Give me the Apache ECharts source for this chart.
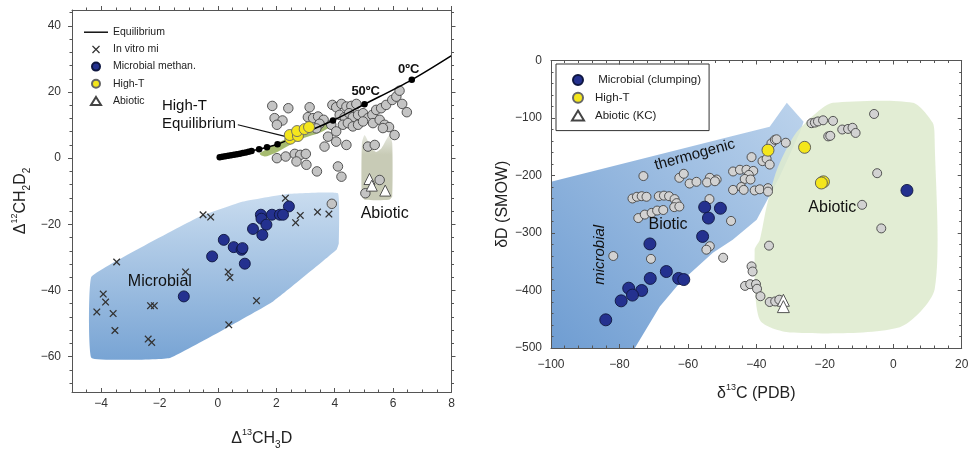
<!DOCTYPE html>
<html><head><meta charset="utf-8">
<script src="https://cdn.jsdelivr.net/npm/echarts@6/dist/echarts.min.js"></script>
<style>html,body{margin:0;padding:0;background:#fff}#c{width:973px;height:451px}</style>
</head><body><div id="c"></div>
<script>
// ---------------- LEFT PANEL DATA (Δ13CH3D vs Δ12CH2D2) ----------------
const leftXMajor = [-4, -2, 0, 2, 4, 6, 8];
const leftXMinor = [-4.5, -3.5, -3, -2.5, -1.5, -1, -0.5, 0.5, 1, 1.5, 2.5, 3, 3.5, 4.5, 5, 5.5, 6.5, 7, 7.5];
const leftYMajor = [-60, -40, -20, 0, 20, 40];
const leftYMinor = [-68, -64, -56, -52, -48, -44, -36, -32, -28, -24, -16, -12, -8, -4, 4, 8, 12, 16, 24, 28, 32, 36, 44];

const equilibriumLine = [[0.06,0.3],[0.6,1.1],[1.2,2.3],[1.41,2.7],[1.68,3.3],[2.04,4.2],[3.0,7.8],[3.94,11.4],[5.02,16.3],[6.64,23.7],[8.0,31.0]];
const equilibriumDots = [[0.06,0.3],[0.15,0.42],[0.25,0.55],[0.35,0.7],[0.45,0.85],[0.55,1.0],[0.65,1.2],[0.75,1.35],[0.85,1.55],[0.95,1.75],[1.05,1.95],[1.15,2.15],[1.41,2.7],[1.68,3.3],[2.04,4.2],[3.94,11.4],[5.02,16.3],[6.64,23.7]];
const leaderLine = [[0.68,10.1],[2.3,6.6]];

const leftGray = [
 [1.86,15.8],[2.41,15.1],[3.14,15.4],[1.94,12.1],[2.21,11.4],[2.02,10.1],[3.08,12.4],[3.26,12.1],[3.43,12.6],[3.62,11.6],
 [3.48,10.4],[3.37,9.0],[3.92,16.1],[4.05,15.4],[4.23,16.4],[4.40,15.6],[4.57,15.8],[4.74,16.4],[4.17,13.1],[4.34,12.4],
 [4.49,13.6],[4.62,12.4],[4.80,13.1],[4.97,13.6],[5.14,12.1],[5.29,13.1],[5.42,14.6],[5.59,15.1],[5.76,16.1],[5.97,17.6],
 [6.11,18.6],[6.22,20.4],[6.31,16.4],[6.47,13.9],[4.28,10.1],[4.45,10.6],[4.62,9.6],[4.80,10.1],[4.97,11.1],[5.31,10.6],
 [5.54,11.6],[5.71,10.1],[5.86,9.4],[6.05,7.0],[5.65,9.1],[3.65,3.5],[4.05,5.0],[4.40,4.0],[5.14,3.5],[5.37,4.0],
 [2.02,0.0],[2.32,0.5],[2.63,1.3],[2.82,1.0],[3.01,1.3],[2.69,-1.0],[3.03,-2.0],[3.39,-4.0],[4.11,-2.5],[4.23,-5.6],
 [3.88,10.1],[4.05,8.1],[3.77,6.5],[5.05,-10.6],[5.54,-6.6],[3.90,-13.8]
];
const leftInVitro = [
 [-3.47,-31.4],[-0.51,-17.1],[-0.25,-17.8],[-1.11,-34.4],[0.35,-34.4],[0.41,-36.1],[-3.93,-41.1],[-3.85,-43.5],[-4.15,-46.5],[-3.59,-47.0],
 [-2.31,-44.6],[-2.18,-44.6],[-3.53,-52.1],[-2.39,-54.7],[-2.27,-55.7],[0.37,-50.4],[1.32,-43.1],[2.31,-12.1],[2.82,-17.3],[2.66,-19.5],
 [3.41,-16.3],[3.80,-16.9]
];
const leftMicrobial = [
 [2.43,-14.6],[1.47,-17.1],[1.49,-18.3],[1.85,-17.1],[2.12,-17.1],[2.23,-17.1],[1.66,-20.1],[1.20,-21.4],[1.52,-23.2],[0.20,-24.7],
 [0.54,-26.9],[0.81,-27.7],[0.84,-27.2],[-0.20,-29.7],[0.92,-31.9],[-1.17,-41.8]
];
const leftHighT = [[2.48,5.9],[2.46,7.0],[2.74,6.7],[2.71,8.2],[2.97,8.8],[3.12,9.4]];
const leftAbiotic = [[5.19,-6.3],[5.27,-8.3],[5.73,-9.8]];

const leftMicrobialZone = [[-4.33,-35.8],[-0.62,-17.6],[0.86,-13.1],[2.35,-10.8],[4.11,-10.6],[4.14,-25.7],[4.06,-27.7],[1.89,-43.3],[-1.65,-60.4],[-4.33,-60.4]];
const leftHighTZone = [[1.43,1.3],[1.66,2.7],[2.12,5.0],[2.69,7.0],[3.26,9.0],[3.77,10.4],[3.85,9.6],[3.48,7.7],[2.91,6.0],[2.40,3.7],[1.94,1.5],[1.60,0.5]];
const leftAbioticZone = [[4.93,-11.5],[4.93,4.5],[5.02,7.0],[5.12,5.5],[5.25,3.0],[5.42,1.9],[5.6,3.0],[5.76,5.5],[5.88,7.0],[5.97,4.5],[5.97,-11.5],[5.85,-12.6],[5.05,-12.6]];

// ---------------- RIGHT PANEL DATA (δ13C vs δD) ----------------
const rightXMajor = [-100, -80, -60, -40, -20, 0, 20];
const rightXMinor = [-96,-92,-88,-84,-76,-72,-68,-64,-56,-52,-48,-44,-36,-32,-28,-24,-16,-12,-8,-4,4,8,12,16];
const rightYMajor = [-500, -400, -300, -200, -100, 0];
const rightYMinor = [-480,-460,-440,-420,-380,-360,-340,-320,-280,-260,-240,-220,-180,-160,-140,-120,-80,-60,-40,-20];

const rightGray = [
 [-5.6,-93],[-23.9,-109],[-22.9,-108],[-22.0,-106],[-20.5,-104],[-17.6,-105],[-14.9,-120],[-13.2,-119],[-11.9,-117],[-11.0,-126],
 [-19.0,-132],[-18.4,-131],[-35.6,-144],[-34.6,-138],[-34.1,-137],[-31.4,-143],[-38.2,-175],[-37.0,-171],[-36.1,-181],[-41.4,-168],
 [-46.8,-193],[-44.8,-190],[-42.9,-190],[-40.9,-192],[-42.2,-199],[-43.4,-206],[-41.7,-207],[-46.8,-225],[-44.4,-220],[-43.7,-225],
 [-40.5,-226],[-39.0,-224],[-36.6,-222],[-36.6,-228],[-51.6,-207],[-53.6,-204],[-54.4,-212],[-52.1,-210],[-59.5,-214],[-57.5,-211],
 [-62.5,-204],[-61.2,-197],[-73.0,-201],[-76.2,-240],[-74.9,-237],[-73.5,-236],[-72.1,-237],[-68.5,-236],[-67.0,-235],[-65.5,-236],
 [-63.9,-241],[-63.3,-248],[-64.0,-255],[-62.5,-254],[-74.5,-274],[-72.6,-268],[-70.6,-265],[-69.0,-261],[-67.2,-260],[-53.7,-241],
 [-47.4,-279],[-53.6,-323],[-54.6,-329],[-36.3,-322],[-49.7,-343],[-81.8,-340],[-70.8,-345],[-41.4,-358],[-41.1,-367],[-43.3,-392],
 [-41.8,-389],[-40.1,-389],[-39.8,-397],[-38.8,-410],[-36.1,-420],[-34.5,-419],[-33.3,-416],[-4.7,-196],[-9.1,-251],[-3.5,-292]
];
const rightMicrobial = [
 [-55.1,-255],[-50.5,-257],[-54.0,-274],[-55.7,-306],[-71.1,-319],[-66.3,-367],[-71.0,-379],[-62.7,-379],[-61.2,-381],[-77.3,-396],
 [-73.5,-400],[-76.2,-408],[-79.5,-418],[-84.0,-451],[4.0,-226]
];
const rightHighT = [[-36.6,-156],[-25.9,-151],[-20.4,-211],[-21.0,-213]];
const rightAbiotic = [[-32.1,-417],[-32.1,-428]];

const rightBioticZone = [[-100,-211],[-47.8,-132.6],[-36.1,-115.2],[-31.1,-73.5],[-26.2,-106.5],[-27.3,-125.6],[-33.2,-202],[-39.9,-276.8],[-46.9,-311.6],[-52.7,-334.2],[-62.3,-386.3],[-68.2,-428],[-75.5,-500],[-100,-500]];
const rightAbioticZone = [[-22.1,-89],[-17.7,-73.5],[5.7,-73.5],[11.5,-108],[12.1,-138],[12.1,-398],[1.9,-464],[-30.2,-473],[-39,-451],[-40.5,-329],[-39,-312],[-37,-254],[-34,-190],[-28.8,-129]];

// ---------------- TEXT ----------------
const leftNotes = [
 {t:'High-T', x:-1.92, y:15.8, align:'left', size:15},
 {t:'Equilibrium', x:-1.92, y:10.3, align:'left', size:15},
 {t:'50ºC', x:5.06, y:20.2, size:13, bold:true},
 {t:'0ºC', x:6.53, y:26.7, size:13, bold:true},
 {t:'Microbial', x:-1.99, y:-37.2, size:16},
 {t:'Abiotic', x:5.71, y:-16.7, size:16}
];
const rightNotes = [
 {t:'thermogenic', x:-58, y:-164, size:15, rot:0.27},
 {t:'microbial', x:-85.6, y:-338, size:15, rot:Math.PI/2, italic:true},
 {t:'Biotic', x:-65.8, y:-285, size:16},
 {t:'Abiotic', x:-17.8, y:-255, size:16}
];

const FONT = 'Liberation Sans, Arial, Helvetica, sans-serif';
const AX = '#555';
const minusFmt = v => String(v).replace('-', '\u2212');

function axesFor(g, xr, yr, xMaj, xMin, yMaj, yMin, o) {
  const base = (extra) => Object.assign({type:'value', gridIndex:g, splitLine:{show:false}, z:10, silent:true}, extra);
  const line = (show) => ({show, onZero:false, lineStyle:{color:AX, width:1}});
  const xs = [
    base({min:xr[0], max:xr[1], position:'bottom', name:o.xName, nameLocation:'middle', nameGap:o.xNameGap,
      nameTextStyle:o.nameStyle,
      axisLine:line(true), axisTick:{show:true, inside:o.bIn, length:o.maj, customValues:xMaj, lineStyle:{color:AX}},
      axisLabel:{customValues:xMaj, formatter:minusFmt, color:'#333', fontSize:12, fontFamily:FONT, margin:o.xMargin}}),
    base({min:xr[0], max:xr[1], position:'bottom', axisLine:line(false), axisTick:{show:true, inside:o.bIn, length:o.min, customValues:xMin, lineStyle:{color:AX}}, axisLabel:{show:false}}),
    base({min:xr[0], max:xr[1], position:'top', axisLine:line(true), axisTick:{show:true, inside:o.tIn, length:o.maj, customValues:xMaj, lineStyle:{color:AX}}, axisLabel:{show:false}}),
    base({min:xr[0], max:xr[1], position:'top', axisLine:line(false), axisTick:{show:true, inside:o.tIn, length:o.min, customValues:xMin, lineStyle:{color:AX}}, axisLabel:{show:false}})
  ];
  const ys = [
    base({min:yr[0], max:yr[1], position:'left', name:o.yName, nameLocation:'middle', nameGap:o.yNameGap, nameRotate:90,
      nameTextStyle:o.nameStyle,
      axisLine:line(true), axisTick:{show:true, inside:o.lIn, length:o.maj, customValues:yMaj, lineStyle:{color:AX}},
      axisLabel:{customValues:yMaj, formatter:minusFmt, color:'#333', fontSize:12, fontFamily:FONT, margin:o.yMargin}}),
    base({min:yr[0], max:yr[1], position:'left', axisLine:line(false), axisTick:{show:true, inside:o.lIn, length:o.min, customValues:yMin, lineStyle:{color:AX}}, axisLabel:{show:false}}),
    base({min:yr[0], max:yr[1], position:'right', axisLine:line(true), axisTick:{show:true, inside:o.rIn, length:o.maj, customValues:yMaj, lineStyle:{color:AX}}, axisLabel:{show:false}}),
    base({min:yr[0], max:yr[1], position:'right', axisLine:line(false), axisTick:{show:true, inside:o.rIn, length:o.min, customValues:yMin, lineStyle:{color:AX}}, axisLabel:{show:false}})
  ];
  return {xs, ys};
}

const nameStyle = {
  fontFamily: FONT, color:'#222',
  rich: {
    a:{fontSize:16, lineHeight:22, fontFamily:FONT, color:'#222'},
    p:{fontSize:9, lineHeight:10, verticalAlign:'top', fontFamily:FONT, color:'#222'},
    b:{fontSize:10, lineHeight:10, verticalAlign:'bottom', fontFamily:FONT, color:'#222'}
  }
};

const L = axesFor(0, [-5, 8], [-70.7, 44.8], leftXMajor, leftXMinor, leftYMajor, leftYMinor,
  {bIn:true, tIn:false, lIn:false, rIn:false, maj:4, min:2.5, xMargin:6, yMargin:11,
   xName:'{a|Δ}{p|13}{a|CH}{b|3}{a|D}', yName:'{a|Δ}{p|12}{a|CH}{b|2}{a|D}{b|2}', xNameGap:36, yNameGap:40, nameStyle});
const R = axesFor(1, [-100, 20], [-500, 0], rightXMajor, rightXMinor, rightYMajor, rightYMinor,
  {bIn:true, tIn:true, lIn:true, rIn:true, maj:4, min:2.5, xMargin:11, yMargin:9,
   xName:'{a|δ}{p|13}{a|C (PDB)}', yName:'{a|δD (SMOW)}', xNameGap:35, yNameGap:34, nameStyle});

function polySeries(pts, g, fill, smooth) {
  return {type:'custom', xAxisIndex:g*4, yAxisIndex:g*4, silent:true, z:1, clip:false,
    data:[pts[0]],
    renderItem:(params, api) => ({type:'polygon', shape:{points:pts.map(p => api.coord(p)), smooth:smooth||0}, style:{fill}})};
}
function textSeries(notes, g) {
  return {type:'custom', xAxisIndex:g*4, yAxisIndex:g*4, silent:true, z:8, clip:false,
    data:notes.map(n => [n.x, n.y]),
    renderItem:(params, api) => {
      const n = notes[params.dataIndex];
      const p = api.coord([n.x, n.y]);
      return {type:'text', x:p[0], y:p[1], rotation:n.rot||0,
        style:{text:n.t, fill:'#111', fontSize:n.size, fontFamily:FONT, fontWeight:n.bold?'bold':'normal',
          fontStyle:n.italic?'italic':'normal', align:n.align||'center', verticalAlign:'middle'}};
    }};
}
const CROSS = 'path://M0,1.2L1.2,0L5,3.8L8.8,0L10,1.2L6.2,5L10,8.8L8.8,10L5,6.2L1.2,10L0,8.8L3.8,5Z';
function scatter(name, data, g, sym, size, fill, border, z) {
  return {type:'scatter', name, data, xAxisIndex:g*4, yAxisIndex:g*4, symbol:sym, symbolSize:size, z:z||3,
    itemStyle:{color:fill, borderColor:border, borderWidth:border?0.9:0, opacity:1}, silent:true};
}

const BLUE = '#24318f', BLUE_B = '#0e1640', YEL = '#f4e61c', GRAY = '#c4c4c4';

const option = {
  animation:false,
  backgroundColor:'#fff',
  textStyle:{fontFamily:FONT},
  grid:[
    {left:72, top:10, right:521.5, bottom:59, containLabel:false, outerBoundsMode:'none'},
    {left:551, top:60.5, right:11.3, bottom:103, containLabel:false, outerBoundsMode:'none'}
  ],
  xAxis:[...L.xs, ...R.xs],
  yAxis:[...L.ys, ...R.ys],
  legend:[
    {orient:'vertical', left:83, top:26.7, padding:0, itemWidth:24, itemHeight:8, itemGap:6.2, selectedMode:false, symbolKeepAspect:true,
     textStyle:{fontSize:10.5, color:'#222', fontFamily:FONT},
     data:[
       {name:'Equilibrium', icon:'path://M0,0M0,3.3L24,3.3L24,4.7L0,4.7ZM24,8', itemStyle:{color:'#000', borderWidth:0}},
       'In vitro mi','Microbial methan.','High-T',
       {name:'Abiotic', icon:'path://M0,0M12,0L17,8L7,8ZM24,8'}]},
    {orient:'vertical', left:556, top:64, padding:[10,8,9,9], borderColor:'#333', borderWidth:1, itemWidth:24, itemHeight:10, itemGap:5.8, selectedMode:false, symbolKeepAspect:true,
     textStyle:{fontSize:11.5, color:'#222', fontFamily:FONT},
     data:[' Microbial (clumping)','High-T',{name:'Abiotic (KC)', icon:'path://M0,0M12,0L18,10L6,10ZM24,10'}]}
  ],
  series:[
    // left zones
    polySeries(leftMicrobialZone, 0, {type:'linear', x:0, y:0, x2:0, y2:1, colorStops:[{offset:0, color:'#c9dcef'},{offset:1, color:'#78a4d4'}]}, 0.08),
    polySeries(leftHighTZone, 0, '#a6bb6f', 0.3),
    polySeries(leftAbioticZone, 0, {type:'linear', x:0, y:0, x2:0, y2:1, colorStops:[{offset:0, color:'rgba(200,204,184,0.45)'},{offset:0.3, color:'#c8cbb6'},{offset:1, color:'#c8cbb6'}]}, 0.2),
    // right zones
    polySeries(rightBioticZone, 1, {type:'linear', x:1, y:0, x2:0, y2:1, colorStops:[{offset:0, color:'#bcd3ec'},{offset:1, color:'#6f9dd2'}]}, 0),
    Object.assign(polySeries(rightAbioticZone, 1, 'rgba(222,234,206,0.88)', 0.25), {z:1.5}),
    // left marks
    scatter('leftGray', leftGray, 0, 'circle', 9.5, GRAY, '#444', 3),
    {type:'line', name:'Equilibrium', data:equilibriumLine, xAxisIndex:0, yAxisIndex:0, symbol:'none', smooth:0.3, z:4,
     lineStyle:{color:'#000', width:1.5}, itemStyle:{color:'#000'}, silent:true},
    scatter('eqDots', equilibriumDots, 0, 'circle', 6.5, '#000', null, 4),
    {type:'line', name:'leader', data:leaderLine, xAxisIndex:0, yAxisIndex:0, symbol:'none', z:4, lineStyle:{color:'#111', width:1.2}, silent:true},
    scatter('In vitro mi', leftInVitro, 0, CROSS, 7.5, '#333', null, 4),
    scatter('Microbial methan.', leftMicrobial, 0, 'circle', 11, BLUE, BLUE_B, 5),
    scatter('High-T', leftHighT, 0, 'circle', 11, YEL, '#666', 5),
    scatter('Abiotic', leftAbiotic, 0, 'triangle', 11, '#fff', '#444', 5),
    // right marks
    scatter('rightGray', rightGray, 1, 'circle', 9, '#d2d2d2', '#444', 3),
    scatter(' Microbial (clumping)', rightMicrobial, 1, 'circle', 12, BLUE, BLUE_B, 5),
    scatter('rightHighT', rightHighT, 1, 'circle', 12, YEL, '#555', 5),
    scatter('Abiotic (KC)', rightAbiotic, 1, 'triangle', 12, '#fff', '#444', 5),
    textSeries(leftNotes, 0),
    textSeries(rightNotes, 1)
  ]
};
const chart = echarts.init(document.getElementById('c'), null, {renderer:'canvas'});
chart.setOption(option);
</script></body></html>
